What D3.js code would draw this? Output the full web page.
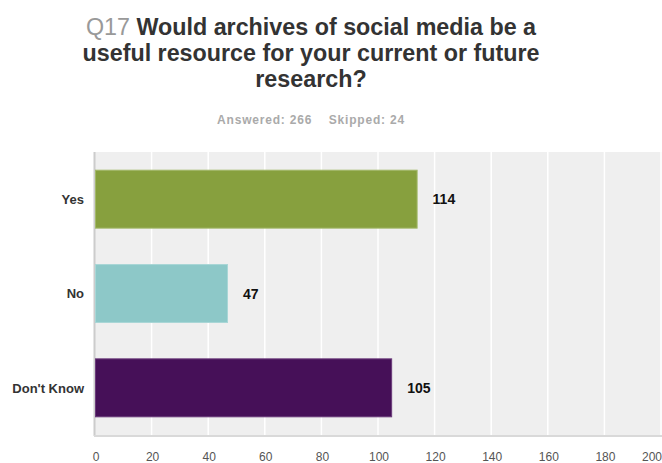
<!DOCTYPE html>
<html><head><meta charset="utf-8">
<script src="https://cdn.jsdelivr.net/npm/d3@7"></script>
<style>body{margin:0;background:#fff}svg{display:block}text{font-family:"Liberation Sans",Arial,sans-serif}</style>
</head><body>
<svg id="c" width="662" height="463"></svg>
<script>
const categories = ["Yes", "No", "Don't Know"];
const values = [114, 47, 105];
const colors = ["#87a03e", "#8dc8c8", "#461058"];
const borders = ["#a3b86a", "#a9d6d6", "#6a3a7a"];
const xTicks = [0, 20, 40, 60, 80, 100, 120, 140, 160, 180, 200];
const titleLines = ["Would archives of social media be a", "useful resource for your current or future", "research?"];
const qLabel = "Q17";
const subtitle = "Answered: 266    Skipped: 24";

const svg = d3.select("#c");
const L = 95, R = 661, T = 152, B = 435;
const x = d3.scaleLinear().domain([0, 200]).range([L, R]);
const y = d3.scaleBand().domain(categories).range([T, B]).paddingInner(0.375).paddingOuter(0.1875);

// title
const cx = 311;
const t1 = svg.append("text").attr("x", cx).attr("y", 35).attr("text-anchor", "middle")
  .style("font-size", "23.3px").style("font-weight", "bold").attr("fill", "#333");
t1.append("tspan").attr("fill", "#999").style("font-weight", "normal").text(qLabel + " ");
t1.append("tspan").text(titleLines[0]);
[61, 87].forEach((yy, i) => {
  svg.append("text").attr("x", cx).attr("y", yy).attr("text-anchor", "middle")
    .style("font-size", "23.3px").style("font-weight", "bold").attr("fill", "#333").text(titleLines[i + 1]);
});
svg.append("text").attr("x", cx).attr("y", 124).attr("text-anchor", "middle")
  .style("font-size", "12px").style("font-weight", "bold").style("letter-spacing", "0.8px").attr("fill", "#aaa")
  .attr("xml:space", "preserve").style("white-space", "pre").text(subtitle);

// plot bg
svg.append("rect").attr("x", L).attr("y", T).attr("width", R - L + 2).attr("height", B - T).attr("fill", "#efefef");
// grid
svg.selectAll(".g").data(xTicks.slice(1)).enter().append("line")
  .attr("x1", d => x(d)).attr("x2", d => x(d)).attr("y1", T).attr("y2", B)
  .attr("stroke", "#fff").attr("stroke-width", 1.5);
// axes lines
svg.append("line").attr("x1", L - 0.5).attr("x2", L - 0.5).attr("y1", T).attr("y2", B + 1).attr("stroke", "#ccc").attr("stroke-width", 2);
svg.append("line").attr("x1", L - 1).attr("x2", 662).attr("y1", B + 1).attr("y2", B + 1).attr("stroke", "#d9d9d9").attr("stroke-width", 2);

// bars
svg.selectAll(".bar").data(values).enter().append("rect")
  .attr("x", x(0) + 0.5).attr("y", (d, i) => y(categories[i]) + 0.5)
  .attr("width", d => x(d) - x(0) - 1).attr("height", y.bandwidth() - 1)
  .attr("fill", (d, i) => colors[i]).attr("stroke", (d, i) => borders[i]).attr("stroke-width", 1);

// value labels
svg.selectAll(".vl").data(values).enter().append("text")
  .attr("x", d => x(d) + 15).attr("y", (d, i) => y(categories[i]) + y.bandwidth() / 2 + 5)
  .style("font-size", "14px").style("font-weight", "bold").attr("fill", "#111").text(d => d);

// category labels
svg.selectAll(".cl").data(categories).enter().append("text")
  .attr("x", 84).attr("y", d => y(d) + y.bandwidth() / 2 + 4.7)
  .attr("text-anchor", "end").style("font-size", "13px").style("font-weight", "bold").attr("fill", "#333").text(d => d);

// x tick labels
svg.selectAll(".tl").data(xTicks).enter().append("text")
  .attr("x", (d, i) => i === xTicks.length - 1 ? 662 : x(d) + 1).attr("y", 461)
  .attr("text-anchor", (d, i) => i === xTicks.length - 1 ? "end" : "middle")
  .style("font-size", "12px").attr("fill", "#555").text(d => d);
</script>
</body></html>
